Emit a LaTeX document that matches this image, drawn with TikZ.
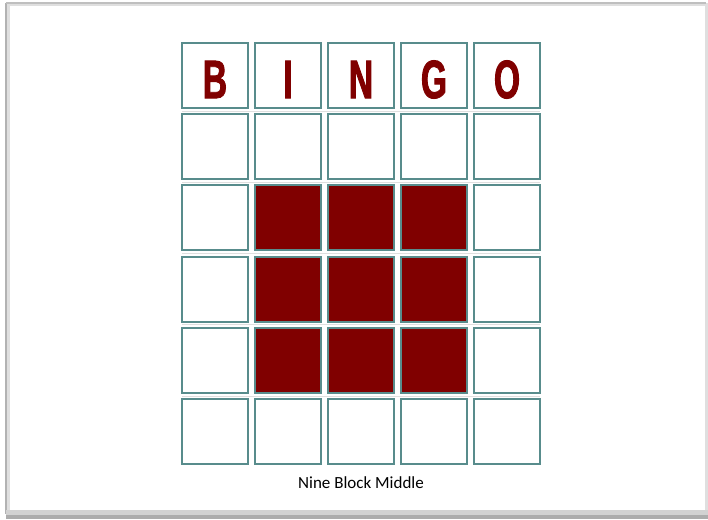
\documentclass[tikz,border=0pt]{standalone}
\usepackage{fontspec}
\setmainfont{Carlito}
\newfontfamily\bingofont[FakeStretch=0.62, FakeBold=1.6]{Liberation Sans}
\definecolor{cellline}{RGB}{88,140,140}
\definecolor{bingored}{RGB}{128,0,0}
\tikzset{
  cell/.style={draw=cellline, line width=2pt, fill=white, minimum width=66pt, minimum height=65pt, inner sep=0pt},
  hit/.style={cell, fill=bingored},
  letter/.style={font=\bingofont\bfseries\fontsize{54}{54}\selectfont, text=bingored, yshift=-4pt}
}
\begin{document}
\begin{tikzpicture}[x=1pt, y=-1pt]
  \useasboundingbox (0,0) rectangle (708,519);
  % frame
  \fill[white] (0,0) rectangle (708,519);
  \draw[gray!25, line width=3pt] (8,5) rectangle (706,512);
  \draw[gray!60, line width=2.5pt] (6,3) -- (6,514);
  \draw[gray!50, line width=2pt] (6,3) -- (706,3);
  \fill[gray!35] (6,510) rectangle (708,519);
  \fill[gray!65] (6,515) rectangle (708,519);

  % faint lines between rows
  \foreach \k in {0,...,4}
    \draw[gray!25, line width=0.8pt] (182,111.25+71.2*\k) -- (540,111.25+71.2*\k);

  % grid
  \foreach \i in {0,...,4}
    \foreach \j in {0,...,5}
      \node[cell] (c-\i-\j) at (215+73*\i, 75.5+71.2*\j) {};

  % nine block middle
  \foreach \i in {1,2,3}
    \foreach \j in {2,3,4}
      \node[hit] (h-\i-\j) at (c-\i-\j) {};

  % header
  \foreach \l [count=\i from 0] in {B,I,N,G,O}
    \node[letter] (l-\i) at (c-\i-0) {\l};

  \node[font=\fontsize{17}{17}\selectfont, anchor=base] (title) at (361,488) {Nine Block Middle};
\end{tikzpicture}
\end{document}
